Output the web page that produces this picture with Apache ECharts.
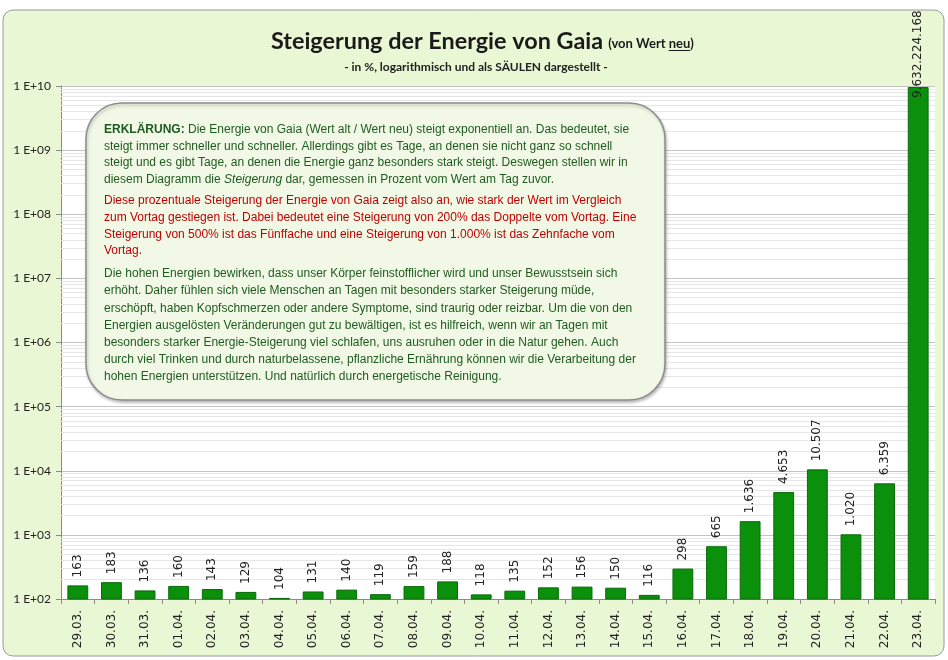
<!DOCTYPE html>
<html>
<head>
<meta charset="utf-8">
<script src="https://cdn.jsdelivr.net/npm/echarts@6/dist/echarts.min.js"></script>
<style>
  html, body { margin: 0; padding: 0; background: #fff; }
  #main { width: 948px; height: 660px; }
</style>
</head>
<body>
<div id="main"></div>
<script>
// Tage (Kategorien)
var days = ['29.03.', '30.03.', '31.03.', '01.04.', '02.04.', '03.04.', '04.04.', '05.04.', '06.04.',
	'07.04.', '08.04.', '09.04.', '10.04.', '11.04.', '12.04.', '13.04.', '14.04.', '15.04.', '16.04.',
	'17.04.', '18.04.', '19.04.', '20.04.', '21.04.', '22.04.', '23.04.'];
// Steigerung in %
var growth = [163, 183, 136, 160, 143, 129, 104, 131, 140, 119, 159, 188, 118, 135, 152, 156, 150, 116,
	298, 665, 1636, 4653, 10507, 1020, 6359, 9632224168];
// Achse
var yMin = 100;
var yMax = 1e10;
var minorSteps = [2, 3, 4, 5, 6, 7, 8, 9];

var titleMain = 'Steigerung der Energie von Gaia';
var titleSub = '- in %, logarithmisch und als SÄULEN dargestellt -';

var para1 = [
	'{b|ERKLÄRUNG:} Die Energie von Gaia (Wert alt / Wert neu) steigt exponentiell an. Das bedeutet, sie',
	'steigt immer schneller und schneller. Allerdings gibt es Tage, an denen sie nicht ganz so schnell',
	'steigt und es gibt Tage, an denen die Energie ganz besonders stark steigt. Deswegen stellen wir in',
	'diesem Diagramm die {i|Steigerung} dar, gemessen in Prozent vom Wert am Tag zuvor.'
];
var para2 = [
	'Diese prozentuale Steigerung der Energie von Gaia zeigt also an, wie stark der Wert im Vergleich',
	'zum Vortag gestiegen ist. Dabei bedeutet eine Steigerung von 200% das Doppelte vom Vortag. Eine',
	'Steigerung von 500% ist das Fünffache und eine Steigerung von 1.000% ist das Zehnfache vom',
	'Vortag.'
];
var para3 = [
	'Die hohen Energien bewirken, dass unser Körper feinstofflicher wird und unser Bewusstsein sich',
	'erhöht. Daher fühlen sich viele Menschen an Tagen mit besonders starker Steigerung müde,',
	'erschöpft, haben Kopfschmerzen oder andere Symptome, sind traurig oder reizbar. Um die von den',
	'Energien ausgelösten Veränderungen gut zu bewältigen, ist es hilfreich, wenn wir an Tagen mit',
	'besonders starker Energie-Steigerung viel schlafen, uns ausruhen oder in die Natur gehen. Auch',
	'durch viel Trinken und durch naturbelassene, pflanzliche Ernährung können wir die Verarbeitung der',
	'hohen Energien unterstützen. Und natürlich durch energetische Reinigung.'
];

// Zahl im deutschen Format (1.636)
function formatDe(v) {
	return String(Math.round(v)).replace(/\B(?=(\d{3})+(?!\d))/g, '.');
}

function textWidth(str, font) {
	var ctx = document.createElement('canvas').getContext('2d');
	ctx.font = font;
	return ctx.measureText(str).width;
}

// Hilfslinien (2..9 pro Dekade)
var minorLines = [];
for (var d = yMin; d < yMax; d *= 10) {
	for (var k = 0; k < minorSteps.length; k++) {
		minorLines.push({ yAxis: d * minorSteps[k] });
	}
}

var barData = [];
for (var i = 0; i < growth.length; i++) {
	var item = { value: growth[i] };
	if (growth[i] >= 1e9) {
		// letzter Wert: Beschriftung ragt in die Säule hinein
		item.label = { distance: -11 };
	}
	barData.push(item);
}

// Text-Box Zeilen
var textEls = [];
var textX = 104;
function addLines(lines, startY, color, lh) {
	for (var j = 0; j < lines.length; j++) {
		textEls.push({
			type: 'text',
			z: 101,
			style: {
				text: lines[j],
				x: textX,
				y: startY + j * lh,
				verticalAlign: 'middle',
				fill: color,
				fontSize: 12,
				fontFamily: 'Liberation Sans, Arial, sans-serif',
				rich: {
					b: { fontWeight: 'bold', fontSize: 12, fontFamily: 'Liberation Sans', fill: color },
					i: { fontStyle: 'italic', fontSize: 12, fontFamily: 'Liberation Sans', fill: color }
				}
			}
		});
	}
}
addLines(para1, 130, '#1f5a1f', 16.5);
addLines(para2, 201, '#c00000', 16.7);
addLines(para3, 274, '#1f5a1f', 17.1);

// Titel: Schriftgröße so, dass die Breite wie im Original passt
var titleLeft = 271;
var titleSize = 21 * 332 / textWidth(titleMain, 'bold 21px Lato');
var titleFont = 'bold ' + titleSize.toFixed(1) + 'px Lato';
var smallFont = 'bold 13px Lato';
var wMain = textWidth(titleMain, titleFont);
var xSmall = titleLeft + wMain + 5;
var wVon = textWidth('(von Wert ', smallFont);
var wNeu = textWidth('neu', smallFont);

var myChart = echarts.init(document.getElementById('main'));

var option = {
	backgroundColor: '#fff',
	animation: false,
	grid: {
		left: 61,
		right: 13,
		top: 86,
		bottom: 61,
		show: true,
		backgroundColor: '#fff',
		borderWidth: 0,
		z: 0
	},
	xAxis: {
		type: 'category',
		data: days,
		boundaryGap: true,
		axisLine: { show: true, lineStyle: { color: '#8a8a8a' } },
		axisTick: { show: true, length: 5, lineStyle: { color: '#8a8a8a' } },
		axisLabel: {
			rotate: 90,
			interval: 0,
			margin: 11,
			color: '#222',
			fontSize: 12,
			fontFamily: 'DejaVu Sans'
		},
		splitLine: { show: false }
	},
	yAxis: {
		type: 'log',
		logBase: 10,
		min: yMin,
		max: yMax,
		axisLine: { show: true, lineStyle: { color: '#8a8a8a' } },
		axisTick: { show: true, length: 5, lineStyle: { color: '#8a8a8a' } },
		axisLabel: {
			color: '#222',
			fontSize: 12,
			fontFamily: 'Lato',
			margin: 10,
			formatter: function(v) {
				var e = Math.round(Math.log10(v));
				return '1 E+' + (e < 10 ? '0' + e : e);
			}
		},
		splitLine: { show: true, lineStyle: { color: '#c4c4c4', width: 1 } }
	},
	series: [{
			// Hilfslinien
			type: 'line',
			data: [],
			z: 1,
			silent: true,
			markLine: {
				silent: true,
				z: 1,
				symbol: 'none',
				label: { show: false },
				lineStyle: { color: '#e6e6e6', type: 'solid', width: 1 },
				data: minorLines,
				animation: false
			}
		},
		{
			type: 'bar',
			data: barData,
			barWidth: '62%',
			z: 3,
			itemStyle: {
				color: '#0a900a',
				borderColor: '#0a6a0a',
				borderWidth: 1
			},
			label: {
				show: true,
				position: 'top',
				rotate: 90,
				align: 'left',
				verticalAlign: 'middle',
				distance: 8,
				color: '#222',
				fontSize: 12,
				fontFamily: 'DejaVu Sans',
				formatter: function(p) {
					return formatDe(p.value);
				}
			}
		}
	],
	graphic: [{
			// äußerer Rahmen
			type: 'rect',
			z: -10,
			shape: { x: 3, y: 10, width: 941, height: 646, r: 10 },
			style: { fill: '#eaf7d5', stroke: '#9a9a9a', lineWidth: 1 }
		},
		{
			type: 'text',
			z: 100,
			style: {
				text: titleMain,
				x: titleLeft,
				y: 53,
				verticalAlign: 'bottom',
				font: titleFont,
				fill: '#1a1a1a'
			}
		},
		{
			type: 'text',
			z: 100,
			style: {
				text: '(von Wert neu)',
				x: xSmall,
				y: 50,
				verticalAlign: 'bottom',
				font: smallFont,
				fill: '#1a1a1a'
			}
		},
		{
			type: 'line',
			z: 100,
			shape: { x1: xSmall + wVon, y1: 50.5, x2: xSmall + wVon + wNeu, y2: 50.5 },
			style: { stroke: '#1a1a1a', lineWidth: 1 }
		},
		{
			type: 'text',
			z: 100,
			style: {
				text: titleSub,
				x: 476,
				y: 67,
				align: 'center',
				verticalAlign: 'middle',
				font: 'bold 12px Lato',
				fill: '#222'
			}
		},
		{
			// Erklärungs-Box
			type: 'rect',
			z: 100,
			shape: { x: 86, y: 103, width: 579, height: 297, r: 36 },
			style: {
				fill: '#f1f9e6',
				stroke: '#8c8c8c',
				lineWidth: 1.5,
				shadowBlur: 3,
				shadowOffsetX: 1,
				shadowOffsetY: 2,
				shadowColor: 'rgba(0,0,0,0.25)'
			}
		}
	].concat(textEls)
};

myChart.setOption(option);
</script>
</body>
</html>
